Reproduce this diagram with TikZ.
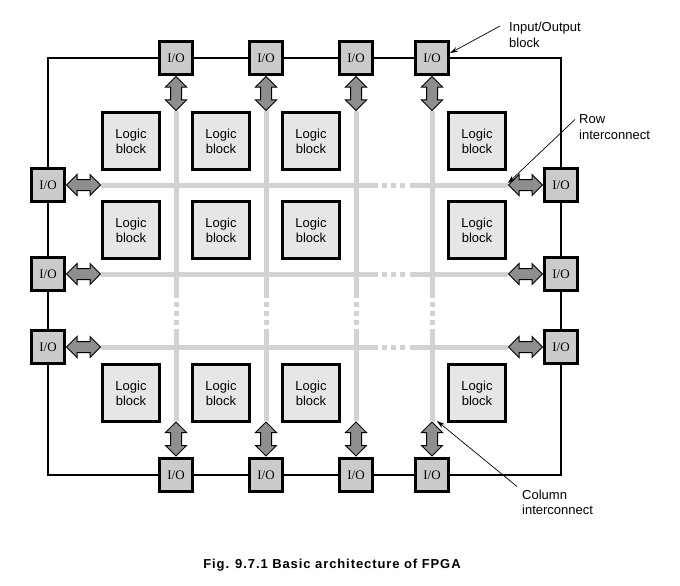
\documentclass[tikz,border=0pt]{standalone}
\usepackage{fontspec}
\setmainfont{Liberation Sans}
\newfontfamily\ioserif{Liberation Serif}
\usetikzlibrary{shapes.arrows,arrows.meta}
\definecolor{iogray}{HTML}{CBCBCB}
\definecolor{logicgray}{HTML}{E6E6E6}
\definecolor{wiregray}{HTML}{D2D2D2}
\definecolor{arrowgray}{HTML}{8E8E8E}
\begin{document}
\begin{tikzpicture}[
    x=1pt, y=-1pt,
    iobox/.style={draw, fill=iogray, line width=3pt, minimum size=33pt, inner sep=0pt, font=\ioserif\fontsize{13}{15}\selectfont},
    logic/.style={draw, fill=logicgray, line width=2.6pt, minimum size=57pt, inner sep=0pt, align=center, font=\fontsize{13}{15}\selectfont},
    fat/.style={double arrow, draw, fill=arrowgray, line width=1pt, minimum height=34pt, minimum width=20pt, double arrow head extend=5pt, inner xsep=0pt, inner ysep=5pt},
    wire/.style={wiregray, line width=5pt},
    gapdash/.style={wire, dash pattern=on 5pt off 4pt},
    note/.style={anchor=north west, align=left, inner sep=0pt, font=\fontsize{13}{15.5}\selectfont},
    frame/.style={line width=1.2pt},
    pointer/.style={->, line width=0.7pt},
    >={Stealth[length=8pt,width=5pt]}
  ]
  \useasboundingbox (0,0) rectangle (680,586);
  \node[iobox] (iot1) at (176,58) {I/O};
  \node[iobox] (iot2) at (266,58) {I/O};
  \node[iobox] (iot3) at (356,58) {I/O};
  \node[iobox] (iot4) at (432,58) {I/O};
  \node[iobox] (iob1) at (176,475) {I/O};
  \node[iobox] (iob2) at (266,475) {I/O};
  \node[iobox] (iob3) at (356,475) {I/O};
  \node[iobox] (iob4) at (432,475) {I/O};
  \node[iobox] (iol1) at (48,185) {I/O};
  \node[iobox] (iol2) at (48,274) {I/O};
  \node[iobox] (iol3) at (48,347) {I/O};
  \node[iobox] (ior1) at (561,185) {I/O};
  \node[iobox] (ior2) at (561,274) {I/O};
  \node[iobox] (ior3) at (561,347) {I/O};
  \node[logic] (lb11) at (131,141) {Logic\\block};
  \node[logic] (lb12) at (221,141) {Logic\\block};
  \node[logic] (lb13) at (311,141) {Logic\\block};
  \node[logic] (lb14) at (477,141) {Logic\\block};
  \node[logic] (lb21) at (131,230) {Logic\\block};
  \node[logic] (lb22) at (221,230) {Logic\\block};
  \node[logic] (lb23) at (311,230) {Logic\\block};
  \node[logic] (lb24) at (477,230) {Logic\\block};
  \node[logic] (lb31) at (131,393) {Logic\\block};
  \node[logic] (lb32) at (221,393) {Logic\\block};
  \node[logic] (lb33) at (311,393) {Logic\\block};
  \node[logic] (lb34) at (477,393) {Logic\\block};
  \draw[frame] (iol1) |- (iot1) -- (iot2) -- (iot3) -- (iot4) -| (ior1) -- (ior2) -- (ior3)
    |- (iob4) -- (iob3) -- (iob2) -- (iob1) -| (iol3) -- (iol2) -- (iol1);
  \coordinate (c1t) at (176,111); \coordinate (c1b) at (176,421);
  \coordinate (c2t) at (266,111); \coordinate (c2b) at (266,421);
  \coordinate (c3t) at (356,111); \coordinate (c3b) at (356,421);
  \coordinate (c4t) at (432,111); \coordinate (c4b) at (432,421);
  \coordinate (r1l) at (101,185); \coordinate (r1r) at (508,185);
  \coordinate (r2l) at (101,274); \coordinate (r2r) at (508,274);
  \coordinate (r3l) at (101,347); \coordinate (r3r) at (508,347);
  \draw[wire] (c1t) -- (176,298) (176,329) -- (c1b);
  \draw[gapdash] (176,302) -- (176,325);
  \draw[wire] (c2t) -- (266,298) (266,329) -- (c2b);
  \draw[gapdash] (266,302) -- (266,325);
  \draw[wire] (c3t) -- (356,298) (356,329) -- (c3b);
  \draw[gapdash] (356,302) -- (356,325);
  \draw[wire] (c4t) -- (432,298) (432,329) -- (c4b);
  \draw[gapdash] (432,302) -- (432,325);
  \draw[wire] (r1l) -- (378,185) (410,185) -- (r1r);
  \draw[gapdash] (382,185) -- (406,185);
  \draw[wire] (r2l) -- (378,274) (410,274) -- (r2r);
  \draw[gapdash] (382,274) -- (406,274);
  \draw[wire] (r3l) -- (378,347) (410,347) -- (r3r);
  \draw[gapdash] (382,347) -- (406,347);
  \node[fat, rotate=90] (at1) at (176,93.5) {};
  \node[fat, rotate=90] (at2) at (266,93.5) {};
  \node[fat, rotate=90] (at3) at (356,93.5) {};
  \node[fat, rotate=90] (at4) at (432,93.5) {};
  \node[fat, rotate=90] (ab1) at (176,439) {};
  \node[fat, rotate=90] (ab2) at (266,439) {};
  \node[fat, rotate=90] (ab3) at (356,439) {};
  \node[fat, rotate=90] (ab4) at (432,439) {};
  \node[fat] (al1) at (83.5,185) {};
  \node[fat] (al2) at (83.5,274) {};
  \node[fat] (al3) at (83.5,347) {};
  \node[fat] (ar1) at (525.5,185) {};
  \node[fat] (ar2) at (525.5,274) {};
  \node[fat] (ar3) at (525.5,347) {};
  \node[note] (ionote) at (509,22) {Input/Output\\block};
  \node[note] (rownote) at (579,114.5) {Row\\interconnect};
  \node[note] (colnote) at (522,489.5) {Column\\interconnect};
  \draw[pointer] ([xshift=-9pt,yshift=-4pt]ionote.north west) -- (iot4.15);
  \draw[pointer] ([xshift=-4pt,yshift=-5pt]rownote.north west) -- ([yshift=2pt]r1r);
  \draw[pointer] ([xshift=-5pt,yshift=3pt]colnote.north west) -- ([xshift=5pt]c4b);
  \node[font=\bfseries\fontsize{13}{15}\selectfont\addfontfeatures{LetterSpace=7}] (caption) at (332,565) {Fig. 9.7.1 Basic architecture of FPGA};
\end{tikzpicture}
\end{document}
